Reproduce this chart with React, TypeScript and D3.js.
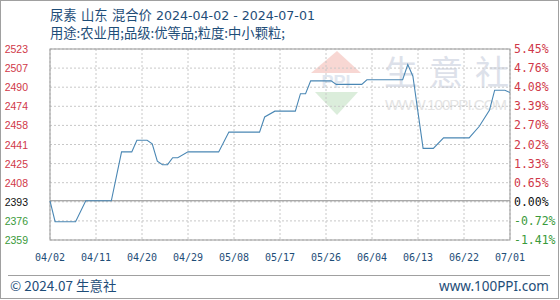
import React from "react";
import * as d3 from "d3";

const dates = [
  "2024-04-02","2024-04-03","2024-04-07","2024-04-09","2024-04-14","2024-04-16","2024-04-18","2024-04-19",
  "2024-04-21","2024-04-22","2024-04-23","2024-04-24","2024-04-25","2024-04-26","2024-04-27","2024-04-29",
  "2024-05-05","2024-05-07","2024-05-13","2024-05-14","2024-05-16","2024-05-20","2024-05-21","2024-05-22",
  "2024-05-23","2024-05-27","2024-05-28","2024-06-02","2024-06-03","2024-06-10","2024-06-11","2024-06-12",
  "2024-06-14","2024-06-16","2024-06-18","2024-06-23","2024-06-25","2024-06-27","2024-06-28","2024-06-30",
  "2024-07-01",
];
const prices = [
  2393, 2375, 2375, 2393, 2393, 2435, 2435, 2445,
  2445, 2442, 2427, 2424, 2424, 2430, 2430, 2435,
  2435, 2452, 2452, 2465, 2470, 2470, 2485, 2485,
  2496, 2496, 2493, 2493, 2497, 2497, 2510, 2500,
  2438, 2438, 2447, 2447, 2457, 2471, 2488, 2488,
  2486,
];
const basePrice = 2393;
const yMin = 2359.3;
const yMax = 2523.4;
const leftTickLabels = ["2359","2376","2393","2408","2425","2441","2458","2474","2490","2507","2523"];
const rightTickLabels = ["-1.41%","-0.72%","0.00%","0.65%","1.33%","2.02%","2.70%","3.39%","4.08%","4.76%","5.45%"];
const xTickLabels = ["04/02","04/11","04/20","04/29","05/08","05/17","05/26","06/04","06/13","06/22","07/01"];
const xTickDates = ["2024-04-02","2024-04-11","2024-04-20","2024-04-29","2024-05-08","2024-05-17","2024-05-26","2024-06-04","2024-06-13","2024-06-22","2024-07-01"];
const titleCjk = ["尿素", "山东", "混合价"];
const titleDates = "2024-04-02 - 2024-07-01";
const subtitleText = "用途:农业用;品级:优等品;粒度:中小颗粒;";

export default function App() {
  const W = 560, H = 300;
  const L = 50, R = 510, T = 49, B = 240;
  const parse = d3.timeParse("%Y-%m-%d");
  const x = d3.scaleTime()
    .domain([parse(dates[0])!, parse(dates[dates.length - 1])!])
    .range([L, R]);
  const y = d3.scaleLinear().domain([yMin, yMax]).range([B, T]);
  const n = leftTickLabels.length;
  const tickVals = leftTickLabels.map((_, i) => yMin + (i * (yMax - yMin)) / (n - 1));
  const line = d3.line<number>()
    .x((_, i) => x(parse(dates[i])!))
    .y((v) => y(v));
  const labelColor = (i: number) => (i < 2 ? "#3a9a3a" : i === 2 ? "#111" : "#d03848");
  const blue = "#1e4d78";
  const cjk = "'Noto Sans CJK SC', sans-serif";
  return (
    <svg width={W} height={H} style={{ position: "absolute", left: 0, top: 0, background: "#fff" }}>
      <rect x={0.5} y={0.5} width={558} height={298} fill="#fff" stroke="#a0a0a0" />
      {/* watermark */}
      <g opacity={0.55}>
        <path d="M311,73 L337,51 L361,73 Z" fill="#f4b8b0" />
        <path d="M315,92 L358,92 L337,115 Z" fill="#bfe0bf" />
        <text x={336} y={88} textAnchor="middle" fontSize={18} fontWeight="bold" fill="#c8d4e4" fontFamily="Arial, sans-serif">PPI</text>
      </g>
      <g fill="#dde1ea" fontFamily={cjk} fontSize={34} textAnchor="middle">
        <text x={401} y={85}>生</text>
        <text x={446} y={85}>意</text>
        <text x={492} y={85}>社</text>
      </g>
      <text x={446} y={110} textAnchor="middle" fontSize={15} fill="#e4e4e4" fontFamily="Arial, sans-serif" textLength={122}>WWW.100PPI.COM</text>
      {/* grid */}
      {tickVals.map((v, i) => (
        <line key={"h" + i} x1={L} x2={R} y1={y(v)} y2={y(v)} stroke="#c8c8c8" strokeDasharray="2,2" />
      ))}
      {xTickDates.map((d, i) => (
        <line key={"v" + i} x1={x(parse(d)!)} x2={x(parse(d)!)} y1={T} y2={B} stroke="#c8c8c8" strokeDasharray="2,2" />
      ))}
      <line x1={L} x2={R} y1={y(basePrice)} y2={y(basePrice)} stroke="#8a8a8a" />
      <rect x={L} y={T} width={R - L} height={B - T} fill="none" stroke="#999" />
      <path d={line(prices) || ""} fill="none" stroke="#4a87b4" strokeWidth={1.1} />
      {/* left labels */}
      {tickVals.map((v, i) => (
        <text key={"l" + i} x={28} y={y(v) + 4} textAnchor="end" fontSize={10.5} fill={labelColor(i)} fontFamily="Arial, 'Liberation Sans', sans-serif">
          {leftTickLabels[i]}
        </text>
      ))}
      {tickVals.map((v, i) => (
        <text key={"r" + i} x={514} y={y(v) + 4} fontSize={11.5} fill={labelColor(i)} fontFamily="'DejaVu Sans Mono', monospace">
          {rightTickLabels[i]}
        </text>
      ))}
      {xTickDates.map((d, i) => (
        <text key={"x" + i} x={x(parse(d)!)} y={261} textAnchor="middle" fontSize={10} fill={blue} fontFamily="'DejaVu Sans Mono', monospace">
          {xTickLabels[i]}
        </text>
      ))}
      <text y={20} fontSize={13.3} fill={blue} fontFamily={cjk}>
        <tspan x={50}>{titleCjk[0]}</tspan>
        <tspan x={81}>{titleCjk[1]}</tspan>
        <tspan x={112}>{titleCjk[2]}</tspan>
        <tspan x={156} fontFamily="'DejaVu Sans', sans-serif" fontSize={12.6}>{titleDates}</tspan>
      </text>
      <text x={50} y={38} fontSize={13.3} fill={blue} fontFamily={cjk}>{subtitleText}</text>
      <line x1={8} x2={550} y1={275.5} y2={275.5} stroke="#a0a0a0" />
      <text x={10} y={291} fontSize={13.5} fill={blue} fontFamily={cjk}>© 2024.07 生意社</text>
      <text x={549} y={291} textAnchor="end" fontSize={13.5} fill={blue} fontFamily="'Noto Sans', sans-serif">www.100PPI.com</text>
    </svg>
  );
}
